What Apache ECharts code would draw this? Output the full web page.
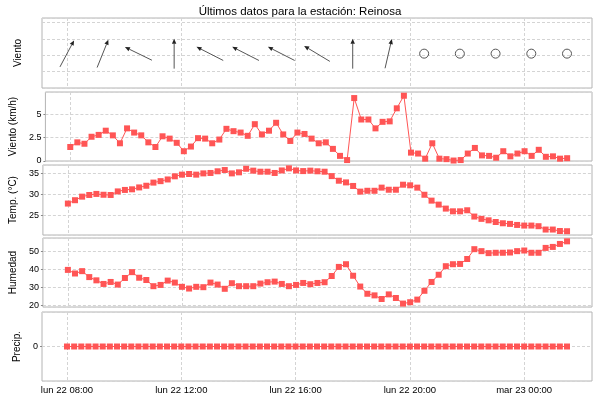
<!DOCTYPE html>
<html>
<head>
<meta charset="utf-8">
<title>Reinosa</title>
<script src="https://cdn.jsdelivr.net/npm/echarts@6/dist/echarts.min.js"></script>
<style>
  html, body { margin: 0; padding: 0; background: #fff; }
  #grafica { width: 600px; height: 400px; }
</style>
</head>
<body>
<div id="grafica"></div>
<script>
// horas de cada lectura (lun 22 08:00 -> mar 23 01:30)
var horas = [
  '08:00','08:15','08:30','08:45','09:00','09:15','09:30','09:45','10:00','10:15','10:30','10:45',
  '11:00','11:15','11:30','11:45','12:00','12:15','12:30','12:45','13:00','13:15','13:30','13:45',
  '14:00','14:15','14:30','14:45','15:00','15:15','15:30','15:45','16:00','16:15','16:30','16:45',
  '17:00','17:15','17:30','17:45','18:00','18:15','18:30','18:45','19:00','19:15','19:30','19:45',
  '20:00','20:15','20:30','20:45','21:00','21:15','21:30','21:45','22:00','22:15','22:30','22:45',
  '23:00','23:15','23:30','23:45','00:00','00:15','00:30','00:45','01:00','01:15','01:30'
];
var viento = [
  1.5,2.0,1.85,2.6,2.8,3.25,2.75,1.9,3.5,3.05,2.75,2.0,1.5,2.65,2.4,1.95,1.05,1.55,2.45,2.4,
  1.9,2.3,3.45,3.2,3.05,2.7,3.95,2.85,3.25,4.1,2.85,2.15,3.05,2.9,2.4,1.9,2.0,1.3,0.55,0.1,
  6.75,4.45,4.45,3.5,4.2,4.25,5.65,7.0,0.9,0.8,0.25,1.9,0.25,0.2,0.05,0.1,0.8,1.4,0.6,0.55,
  0.35,1.05,0.5,0.8,1.05,0.55,1.2,0.45,0.5,0.25,0.3
];
var temperatura = [
  27.8,28.6,29.45,29.85,30.1,29.9,29.85,30.7,31.05,31.2,31.65,32.05,32.8,33.15,33.55,34.3,
  34.7,34.85,34.7,35.0,35.1,35.5,35.8,35.0,35.25,36.1,35.65,35.4,35.4,35.1,35.7,36.2,35.7,
  35.55,35.65,35.5,35.4,34.35,33.25,32.85,32.0,30.65,30.85,30.85,31.6,31.1,31.1,32.3,32.15,
  31.6,29.9,28.5,27.55,26.6,25.95,25.95,26.2,24.7,24.15,23.8,23.4,23.1,22.95,22.7,22.55,
  22.55,22.4,21.6,21.6,21.25,21.2
];
var humedad = [
  39.6,37.6,38.9,35.6,33.8,31.8,32.9,31.45,35.1,38.35,35.25,34.0,30.55,31.25,33.65,32.55,
  30.2,29.25,30.2,30.0,32.55,31.45,29.1,32.2,30.55,30.55,30.55,32.0,32.75,33.1,31.8,30.55,
  31.25,32.35,31.65,32.35,32.75,36.2,41.25,42.75,36.35,30.35,26.35,25.45,23.45,26.0,24.0,
  20.9,21.65,23.1,28.0,32.9,36.9,41.65,42.75,42.9,45.65,51.1,50.0,48.9,49.1,49.1,49.25,
  50.0,50.35,49.1,49.1,51.8,52.35,54.0,55.45
];
var precipitacion = [
  0,0,0,0,0,0,0,0,0,0,0,0,0,0,0,0,0,0,0,0,0,0,0,0,0,0,0,0,0,0,0,0,0,0,0,0,
  0,0,0,0,0,0,0,0,0,0,0,0,0,0,0,0,0,0,0,0,0,0,0,0,0,0,0,0,0,0,0,0,0,0,0
];
// direccion hacia la que apunta la flecha (grados), una cada 5 lecturas; -1 = calma
var direccion = [28, 22, 296, 0, 297, 297, 297, 301, 0, 13, -1, -1, -1, -1, -1];
// marcas del eje x (horas desde lun 22 00:00)
var marcasHora = [8, 12, 16, 20, 24];
var marcasTexto = ['lun 22 08:00', 'lun 22 12:00', 'lun 22 16:00', 'lun 22 20:00', 'mar 23 00:00'];

var fuente = 'Liberation Sans, Arial, sans-serif';
var rojo = '#ff5555';

function aHoras(txt) {
	var h = parseInt(txt.substr(0, 2), 10) + parseInt(txt.substr(3, 2), 10) / 60;
	if (h < 8) h += 24;
	return h;
}
var xs = horas.map(aHoras);

function serieDatos(valores) {
	var d = [];
	for (var i = 0; i < valores.length; i++) {
		d.push([xs[i], valores[i]]);
	}
	return d;
}

var flechas = [];
for (var k = 0; k < direccion.length; k++) {
	flechas.push([xs[k * 5], 0, direccion[k]]);
}

function dibujaFlecha(params, api) {
	var p = api.coord([api.value(0), api.value(1)]);
	var dir = api.value(2);
	if (dir < 0) {
		return {type: 'circle', shape: {cx: p[0], cy: p[1], r: 4.5},
			style: {fill: 'none', stroke: '#555', lineWidth: 1}};
	}
	var a = dir * Math.PI / 180;
	var ux = Math.sin(a), uy = -Math.cos(a);
	var mitad = 15;
	var punta = [p[0] + ux * mitad, p[1] + uy * mitad];
	var cola = [p[0] - ux * mitad, p[1] - uy * mitad];
	var base = [punta[0] - ux * 5, punta[1] - uy * 5];
	var cabeza = [punta, [base[0] - uy * 2.2, base[1] + ux * 2.2], [base[0] + uy * 2.2, base[1] - ux * 2.2]];
	return {type: 'group', children: [
		{type: 'line', shape: {x1: cola[0], y1: cola[1], x2: base[0], y2: base[1]},
			style: {stroke: '#555', lineWidth: 1}},
		{type: 'polygon', shape: {points: cabeza}, style: {fill: '#222'}}
	]};
}

var paneles = [
	{top: 18, height: 70},
	{top: 92, height: 69},
	{top: 165, height: 70},
	{top: 238, height: 69},
	{top: 312, height: 69}
];
var lineaRejilla = {show: true, lineStyle: {color: '#d4d4d4', type: [3, 2], width: 1}};

var grids = [], xAxes = [], yAxes = [];
for (var g = 0; g < paneles.length; g++) {
	var ultimo = (g == paneles.length - 1);
	grids.push({left: 42, right: 8, top: paneles[g].top, height: paneles[g].height,
		show: true, borderColor: '#b4b4b4', borderWidth: 1, backgroundColor: '#fff'});
	xAxes.push({
		type: 'value', gridIndex: g, min: 7.125, max: 26.375,
		axisLine: {show: false},
		axisTick: {show: ultimo, length: 3, lineStyle: {color: '#888'}, customValues: marcasHora},
		axisLabel: {show: ultimo, customValues: marcasHora, margin: 4, fontSize: 9.5,
			fontFamily: fuente, color: '#000',
			formatter: function (v) { return marcasTexto[marcasHora.indexOf(v)]; }},
		splitLine: lineaRejilla
	});
}

function ejeY(g, nombre, extra) {
	var eje = {
		type: 'value', gridIndex: g, name: nombre, nameLocation: 'middle', nameGap: 19,
		nameTextStyle: {fontSize: 10, fontFamily: fuente, color: '#000'},
		axisLine: {show: false},
		axisTick: {show: true, length: 2, lineStyle: {color: '#888'}},
		axisLabel: {fontSize: 9, fontFamily: fuente, color: '#000', margin: 4,
			showMinLabel: false, showMaxLabel: false},
		splitLine: lineaRejilla
	};
	for (var c in extra) eje[c] = extra[c];
	return eje;
}
yAxes.push(ejeY(0, 'Viento', {min: -2.1, max: 2.18, interval: 1,
	axisLabel: {show: false}, axisTick: {show: false}}));
yAxes.push(ejeY(1, 'Viento (km/h)', {min: 0, max: 7.4, interval: 2.5,
	axisLabel: {fontSize: 9, fontFamily: fuente, color: '#000', margin: 4, showMaxLabel: false}}));
yAxes.push(ejeY(2, 'Temp. (°C)', {min: 20.3, max: 37, splitNumber: 3}));
yAxes.push(ejeY(3, 'Humedad', {min: 19, max: 57.3, splitNumber: 4}));
yAxes.push(ejeY(4, 'Precip.', {min: -1, max: 1, interval: 1}));

function serieLinea(g, valores) {
	return {
		type: 'line', xAxisIndex: g, yAxisIndex: g, data: serieDatos(valores),
		symbol: 'rect', symbolSize: 6, showAllSymbol: true,
		lineStyle: {color: rojo, width: 1},
		itemStyle: {color: rojo}
	};
}

var option = {
	animation: false,
	backgroundColor: '#fff',
	title: {text: 'Últimos datos para la estación: Reinosa', left: 'center', top: 1,
		textStyle: {fontSize: 11.5, fontWeight: 'normal', fontFamily: fuente, color: '#000'}},
	grid: grids,
	xAxis: xAxes,
	yAxis: yAxes,
	series: [
		{type: 'custom', xAxisIndex: 0, yAxisIndex: 0, data: flechas, renderItem: dibujaFlecha},
		serieLinea(1, viento),
		serieLinea(2, temperatura),
		serieLinea(3, humedad),
		serieLinea(4, precipitacion)
	]
};

var myChart = echarts.init(document.getElementById('grafica'));
myChart.setOption(option);
</script>
</body>
</html>
